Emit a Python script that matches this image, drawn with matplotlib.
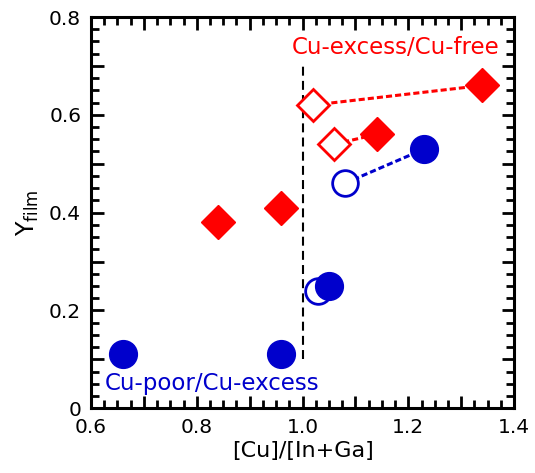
"""Y_film versus [Cu]/[In+Ga] for the Cu-poor and Cu-excess film series."""

import matplotlib

matplotlib.use("Agg")
import matplotlib.pyplot as plt
from matplotlib.ticker import FuncFormatter, MultipleLocator

# Cu-poor / Cu-excess series (blue circles)
blue_filled_x = [0.66, 0.96, 1.05, 1.23]
blue_filled_y = [0.11, 0.11, 0.25, 0.53]
blue_open_x = [1.03, 1.08]
blue_open_y = [0.24, 0.46]
blue_links = [((1.08, 1.23), (0.46, 0.53))]

# Cu-excess / Cu-free series (red diamonds)
red_filled_x = [0.84, 0.96, 1.14, 1.34]
red_filled_y = [0.38, 0.41, 0.56, 0.66]
red_open_x = [1.02, 1.06]
red_open_y = [0.62, 0.54]
red_links = [((1.02, 1.34), (0.62, 0.66)), ((1.06, 1.14), (0.54, 0.56))]

stoich_x = 1.0
stoich_span = (0.10, 0.70)

BLUE = "#0000cc"
RED = "#ff0000"

plt.rcParams.update({
    "font.family": "DejaVu Sans",
    "font.size": 14,
    "axes.linewidth": 2.2,
})

fig = plt.figure(figsize=(5.35, 4.73), dpi=100)
ax = fig.add_axes([0.170, 0.137, 0.791, 0.827])

ax.plot([stoich_x, stoich_x], stoich_span, color="black", lw=1.5,
        dashes=(4.3, 2.5), zorder=1)

for xs, ys in red_links:
    ax.plot(xs, ys, color=RED, lw=2.2, dashes=(2.0, 1.0), zorder=2)
for xs, ys in blue_links:
    ax.plot(xs, ys, color=BLUE, lw=2.2, dashes=(2.0, 1.0), zorder=2)

ax.plot(red_open_x, red_open_y, ls="none", marker="D", ms=16,
        mfc="white", mec=RED, mew=2.0, zorder=3)
ax.plot(blue_open_x, blue_open_y, ls="none", marker="o", ms=18.5,
        mfc="white", mec=BLUE, mew=2.0, zorder=3)
ax.plot(red_filled_x, red_filled_y, ls="none", marker="D", ms=17.5,
        mfc=RED, mec=RED, mew=1.0, zorder=4)
ax.plot(blue_filled_x, blue_filled_y, ls="none", marker="o", ms=20,
        mfc=BLUE, mec=BLUE, mew=1.0, zorder=4)

ax.text(1.373, 0.737, "Cu-excess/Cu-free", color=RED, ha="right",
        va="center", fontsize=16.5)
ax.text(0.627, 0.051, "Cu-poor/Cu-excess", color=BLUE, ha="left",
        va="center", fontsize=16.5)

ax.set_xlim(0.6, 1.4)
ax.set_ylim(0.0, 0.8)
ax.xaxis.set_major_locator(MultipleLocator(0.1))
ax.xaxis.set_minor_locator(MultipleLocator(0.025))
ax.yaxis.set_major_locator(MultipleLocator(0.1))
ax.yaxis.set_minor_locator(MultipleLocator(0.025))


def every_other(v, _pos):
    k = round(v * 10)
    if k % 2:
        return ""
    return "0" if k == 0 else f"{v:.1f}"


ax.xaxis.set_major_formatter(FuncFormatter(every_other))
ax.yaxis.set_major_formatter(FuncFormatter(every_other))
ax.tick_params(which="both", direction="in", top=True, right=True, width=2.0,
               labelsize=14.5)
ax.tick_params(which="major", length=9, pad=7)
ax.tick_params(which="minor", length=5.5)

ax.set_xlabel("[Cu]/[In+Ga]", fontsize=16, labelpad=3)
ax.set_ylabel(r"Y$_{\mathregular{film}}$", fontsize=17, labelpad=6)

fig.savefig("out.png", dpi=100)
